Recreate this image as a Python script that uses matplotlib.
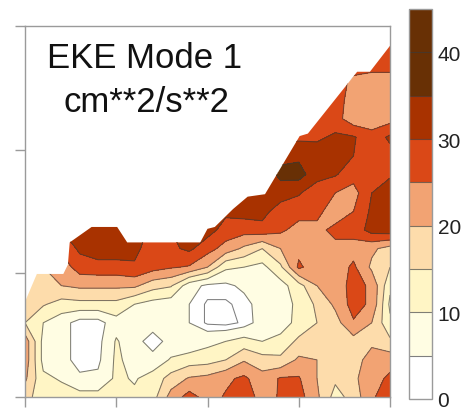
import numpy as np
import matplotlib
matplotlib.use("Agg")
import matplotlib.pyplot as plt
from matplotlib.path import Path
from matplotlib.patches import PathPatch

plt.rcParams['font.family'] = ['Liberation Sans', 'DejaVu Sans']

# ---------------- data ----------------
levels = [0, 5, 10, 15, 20, 25, 30, 35, 40, 45]
line_levels = [2.5, 5, 10, 15, 20, 25, 30, 35, 40]
band_colors = ['#FFFFFF', '#FFFDE3', '#FFF5C5', '#FDDCAB', '#F2A373',
               '#DA4817', '#A83200', '#683005', '#683005']
cbar_ticks = [0, 10, 20, 30, 40]

x_nodes = np.linspace(0, 4, 21)
y_nodes = np.linspace(0, 3, 21)

# EKE values (cm^2/s^2), rows from bottom (y=0) to top (y=3)
eke = [
    [17, 12, 12, 12, 12, 12, 11, 13, 22, 27, 23, 25.5, 28, 23, 25.5, 27, 21, 13, 17, 24.5, 27],
    [21, 11, 9.5, 6, 6, 11, 9.5, 12, 17, 20.5, 21.5, 24, 26, 22, 25.5, 25.5, 20, 16, 19, 23, 26],
    [23, 8.5, 7, 3, 4, 11, 8, 7, 10.5, 12.5, 13, 15, 19.5, 17, 16, 21, 20, 17, 18, 22, 23],
    [23, 8.5, 7, 3, 3.5, 10.5, 7, 2.6, 7, 6, 8.5, 10, 12, 10, 12, 16, 18, 17, 18, 19, 16],
    [15, 10, 7, 3, 3, 8, 7, 7.5, 7, 5, 2, 1.5, 3, 7, 7, 12, 15, 18, 24.5, 20, 11],
    [16, 15.5, 13, 13.5, 13.5, 13.5, 10, 8, 7, 5, 2, 2, 3.5, 7, 8, 11, 16, 21, 27, 24, 9],
    [17, 19, 20, 21, 21, 21, 21, 17, 15.5, 7, 4, 4, 6, 7, 8, 13, 20, 22, 27, 24, 11],
    [18, 20, 22, 27.5, 28, 28, 29.5, 27, 25.5, 24.5, 20, 11, 10, 8.5, 14, 26, 22, 22, 26, 19, 15],
    [20, 24, 26, 31, 33, 33, 31, 28, 29, 31, 27, 23, 19, 15, 20, 23.5, 23, 24, 23, 21, 18],
    [22, 26, 30, 33, 34, 34, 32, 29, 30, 33, 32, 28, 27, 28, 26, 23, 24, 26, 27, 32, 33],
    [22, 27, 31, 34, 35, 35, 33, 30, 30, 33, 33, 31, 32, 32, 27, 27, 26, 23, 25, 31, 32],
    [22, 27, 31, 34, 35, 35, 33, 31, 31, 33, 33, 31, 31, 31, 33, 30.5, 27, 25, 23, 30, 32],
    [22, 27, 31, 34, 35, 35, 33, 31, 31, 33, 33, 31, 31, 32, 36, 37, 32, 30.5, 27, 28.5, 29.5],
    [22, 27, 31, 34, 35, 35, 33, 31, 31, 33, 33, 31, 31, 32, 34, 34, 33, 32, 30, 27, 28],
    [22, 27, 31, 34, 35, 35, 33, 31, 31, 33, 33, 31, 31, 31, 29, 29, 29, 31, 30.5, 27, 31],
    [22, 27, 31, 34, 35, 35, 33, 31, 31, 33, 33, 31, 31, 31, 29, 28, 27, 27, 22, 22, 23],
    [22, 27, 31, 34, 35, 35, 33, 31, 31, 33, 33, 31, 31, 31, 29, 28, 27, 27, 23, 22, 22],
    [22, 27, 31, 34, 35, 35, 33, 31, 31, 33, 33, 31, 31, 31, 29, 28, 27, 27, 24, 23, 23],
    [22, 27, 31, 34, 35, 35, 33, 31, 31, 33, 33, 31, 31, 31, 27, 27, 27, 27, 27, 27, 27],
    [22, 27, 31, 34, 35, 35, 33, 31, 31, 33, 33, 31, 31, 31, 27, 27, 27, 27, 27, 27, 27],
    [22, 27, 31, 34, 35, 35, 33, 31, 31, 33, 33, 31, 31, 31, 27, 27, 27, 27, 27, 27, 27],
]

# outline of the sampled region (data coordinates)
region_x = [0, 4, 4, 3.78, 3.64, 3.10, 3.01, 2.63, 2.44, 2.28, 2.08, 2.00, 1.92,
            1.12, 1.01, 0.73, 0.49, 0.47, 0.42, 0.13, 0]
region_y = [0, 0, 2.84, 2.63, 2.63, 2.13, 2.11, 1.64, 1.62, 1.52, 1.375, 1.36, 1.25,
            1.25, 1.375, 1.375, 1.25, 1.07, 0.995, 0.995, 0.77]

title_lines = ['EKE Mode 1', 'cm**2/s**2']

# ---------------- figure ----------------
W, H = 469, 410
fig = plt.figure(figsize=(W / 100, H / 100), dpi=100)
ax = fig.add_axes([25 / W, 12 / H, 365 / W, 371 / H])

X, Y = np.meshgrid(x_nodes, y_nodes)
Z = np.array(eke, dtype=float)

cs = ax.contourf(X, Y, Z, levels=levels, colors=band_colors)
clip = PathPatch(Path(np.column_stack([region_x, region_y])), transform=ax.transData,
                 facecolor='none', edgecolor='none')
ax.add_patch(clip)
cs.set_clip_path(clip)
cl = ax.contour(X, Y, Z, levels=line_levels, colors='#3a3a3a', linewidths=0.75, alpha=0.65)
cl.set_clip_path(clip)

ax.set_xlim(0, 4)
ax.set_ylim(0, 3)
ax.set_xticks([0, 1, 2, 3, 4])
ax.set_yticks([0, 1, 2, 3])
ax.set_xticklabels([])
ax.set_yticklabels([])
ax.tick_params(direction='out', length=7, width=1, color='#9a9a9a')
for s in ax.spines.values():
    s.set_color('#9a9a9a')
    s.set_linewidth(1)

# colorbar
cax = fig.add_axes([409 / W, 10 / H, 23 / W, 390 / H])
cb = fig.colorbar(cs, cax=cax, ticks=cbar_ticks)
cb.outline.set_edgecolor('#9a9a9a')
cb.outline.set_linewidth(1)
cax.tick_params(length=0, labelsize=15, pad=4, labelcolor='#222222')
for lv in levels[1:-1]:
    cax.axhline(lv, color='#3a3a3a', lw=0.8, alpha=0.65)

fig.text(145 / W, 1 - 68 / H, title_lines[0], ha='center', va='baseline',
         fontsize=25, color='#111111')
fig.text(146 / W, 1 - 112 / H, title_lines[1], ha='center', va='baseline',
         fontsize=25, color='#111111')

fig.savefig('out.png', dpi=100)
